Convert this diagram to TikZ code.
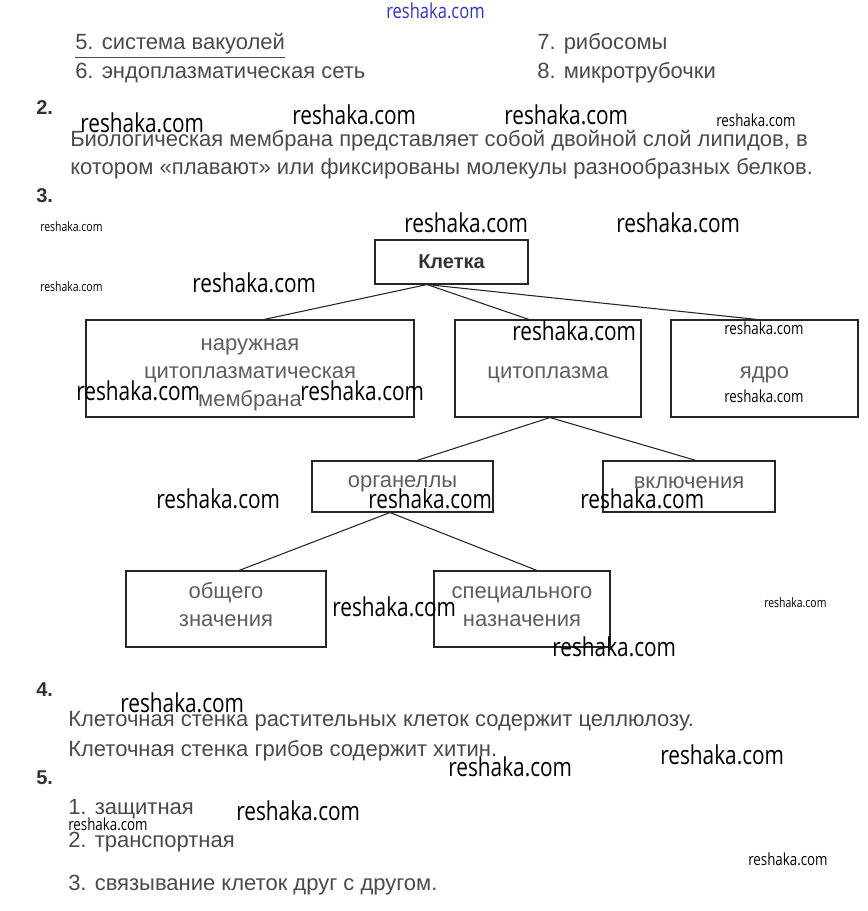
\documentclass[tikz,border=0pt]{standalone}
\usepackage{fontspec}
\setmainfont{Liberation Sans}
\newfontfamily\wmfont[FakeStretch=0.8]{Open Sans}
\usetikzlibrary{calc}
\definecolor{txt}{HTML}{4A4A4A}
\definecolor{boxtxt}{HTML}{5E5E5E}
\definecolor{numc}{HTML}{333333}
\definecolor{wmblue}{HTML}{3333CC}
\begin{document}
\begin{tikzpicture}[x=0.75pt,y=-0.75pt,
  body/.style={anchor=west, inner sep=0, text=txt, yshift=-1.5pt, font=\fontsize{16.5}{21}\selectfont},
  num/.style={anchor=west, inner sep=0, text=numc, font=\fontsize{15}{18}\selectfont\bfseries},
  box/.style={draw=black!85, line width=0.8pt, inner sep=0},
  btxt/.style={inner sep=0, text=boxtxt, align=center, font=\fontsize{16.5}{21}\selectfont},
  boxwh/.style 2 args={minimum width=#1*0.75pt, minimum height=#2*0.75pt},
  link/.style={draw=black!85, line width=0.8pt},
  wmL/.style={anchor=west, inner sep=0, text=black, font=\wmfont\fontsize{19.5}{20}\selectfont},
  wmS/.style={anchor=west, inner sep=0, text=black, font=\wmfont\fontsize{12.5}{13}\selectfont},
  wmT/.style={anchor=west, inner sep=0, text=black, font=\wmfont\fontsize{9.8}{10}\selectfont},
  wmB/.style={anchor=west, inner sep=0, text=wmblue, font=\wmfont\fontsize{15.5}{16}\selectfont}
]
\fill[white] (0,0) rectangle (868,911);
\useasboundingbox (0,0) rectangle (868,911);

% ---- question 1 tail
\node[body] (s5) at (75,42) {5. система вакуолей};
\draw[txt, line width=0.6pt] ([yshift=-2pt]s5.south west) -- ([yshift=-2pt]s5.south east);
\node[body] (s6) at (75,71) {6. эндоплазматическая сеть};
\node[body] (s7) at (537,42) {7. рибосомы};
\node[body] (s8) at (537,71) {8. микротрубочки};

% ---- question 2
\node[num] (n2) at (36,108) {2.};
\node[body] (q2a) at (70,139) {Биологическая мембрана представляет собой двойной слой липидов, в};
\node[body] (q2b) at (70,167) {котором «плавают» или фиксированы молекулы разнообразных белков.};

% ---- question 3 diagram
\node[num] (n3) at (36,196) {3.};
\node[box, boxwh={153}{44}, text=numc, font=\fontsize{15}{18}\selectfont\bfseries] (kl) at (451.5,262) {Клетка};
\node[box, boxwh={328}{97}] (mem) at (250,368.5) {};
\node[box, boxwh={186}{97}] (cyt) at (548,368.5) {};
\node[box, boxwh={187}{97}] (nuc) at (764.5,368.5) {};
\node[box, boxwh={181}{51}] (org) at (402.5,486.5) {};
\node[box, boxwh={172}{51}] (inc) at (689,486.5) {};
\node[box, boxwh={200}{76}] (gen) at (226,609) {};
\node[box, boxwh={176}{76}] (spe) at (522,609) {};

\node[btxt] (memt) at ($(mem.center)+(0,6)$) {наружная\\цитоплазматическая\\мембрана};
\node[btxt] (cytt) at ($(cyt.center)+(0,6)$) {цитоплазма};
\node[btxt] (nuct) at ($(nuc.center)+(0,6)$) {ядро};
\node[btxt] (orgt) at ($(org.center)+(0,-3)$) {органеллы};
\node[btxt] (inct) at ($(inc.center)+(0,-4)$) {включения};
\node[btxt] (gent) at ($(gen.center)+(0,-4)$) {общего\\значения};
\node[btxt] (spet) at ($(spe.center)+(0,-2)$) {специального\\назначения};

\draw[link] ($(kl.south)+(-24.5,0)$) -- ($(mem.north)+(14,0)$);
\draw[link] ($(kl.south)+(-24.5,0)$) -- ($(cyt.north)+(-19,0)$);
\draw[link] ($(kl.south)+(-24.5,0)$) -- ($(nuc.north)+(-7.5,0)$);
\draw[link] ($(cyt.south)+(2,0)$) -- ($(org.north)+(14.5,0)$);
\draw[link] ($(cyt.south)+(2,0)$) -- ($(inc.north)+(7,0)$);
\draw[link] ($(org.south)+(-12.5,0)$) -- ($(gen.north)+(13,0)$);
\draw[link] ($(org.south)+(-12.5,0)$) -- ($(spe.north)+(15,0)$);

% ---- question 4
\node[num] (n4) at (36,690) {4.};
\node[body] (q4a) at (68,719) {Клеточная стенка растительных клеток содержит целлюлозу.};
\node[body] (q4b) at (68,749) {Клеточная стенка грибов содержит хитин.};

% ---- question 5
\node[num] (n5) at (36,778) {5.};
\node[body] (q5a) at (68,807) {1. защитная};
\node[body] (q5b) at (68,840) {2. транспортная};
\node[body] (q5c) at (68,883) {3. связывание клеток друг с другом.};

% ---- watermarks
\node[wmB] (w0) at (386,11) {reshaka.com};
\node[wmL] (w1) at (80,123) {reshaka.com};
\node[wmL] (w2) at (292,115) {reshaka.com};
\node[wmL] (w3) at (504,115) {reshaka.com};
\node[wmS] (w4) at (716,120) {reshaka.com};
\node[wmT] (w5) at (40,227) {reshaka.com};
\node[wmL] (w6) at (404,223) {reshaka.com};
\node[wmL] (w7) at (616,223) {reshaka.com};
\node[wmT] (w8) at (40,287) {reshaka.com};
\node[wmL] (w9) at (192,283) {reshaka.com};
\node[wmL] (w10) at (512,331) {reshaka.com};
\node[wmS] (w11) at (724,328) {reshaka.com};
\node[wmL] (w12) at (76,391) {reshaka.com};
\node[wmL] (w13) at (300,391) {reshaka.com};
\node[wmS] (w14) at (724,396) {reshaka.com};
\node[wmL] (w15) at (156,499) {reshaka.com};
\node[wmL] (w16) at (368,499) {reshaka.com};
\node[wmL] (w17) at (580,499) {reshaka.com};
\node[wmL] (w18) at (332,607) {reshaka.com};
\node[wmT] (w19) at (764,603) {reshaka.com};
\node[wmL] (w20) at (552,647) {reshaka.com};
\node[wmL] (w21) at (120,703) {reshaka.com};
\node[wmL] (w22) at (660,755) {reshaka.com};
\node[wmL] (w23) at (448,767) {reshaka.com};
\node[wmL] (w24) at (236,811) {reshaka.com};
\node[wmS] (w25) at (68,824) {reshaka.com};
\node[wmS] (w26) at (748,859) {reshaka.com};
\end{tikzpicture}
\end{document}
